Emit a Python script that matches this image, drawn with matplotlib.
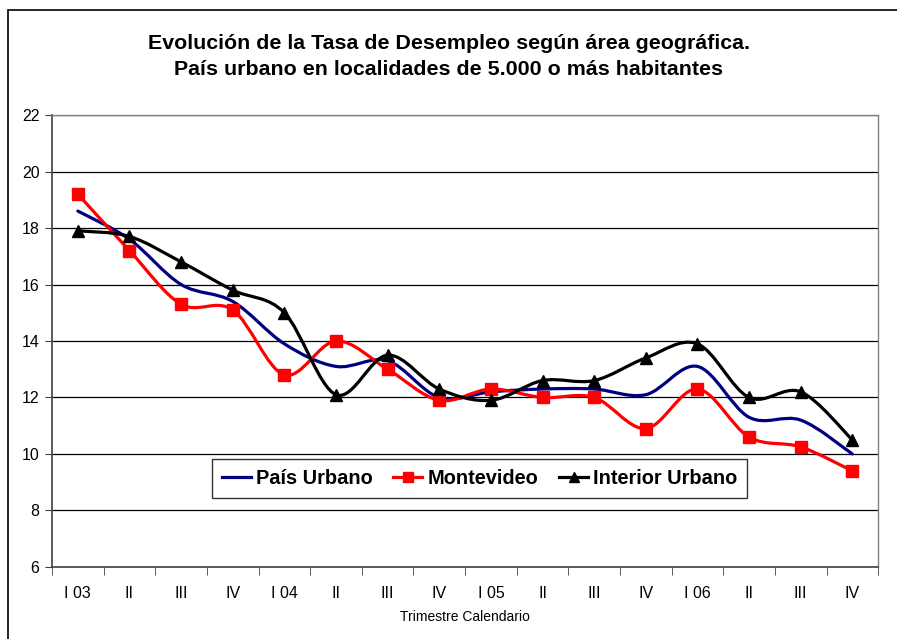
import numpy as np
import matplotlib.pyplot as plt
from matplotlib.path import Path
from matplotlib.patches import PathPatch, Rectangle
from matplotlib.lines import Line2D

plt.rcParams['font.family'] = ['Liberation Sans', 'DejaVu Sans']

# Datos
trimestres = ['I 03', 'II', 'III', 'IV', 'I 04', 'II', 'III', 'IV',
              'I 05', 'II', 'III', 'IV', 'I 06', 'II', 'III', 'IV']
pais_urbano = [18.6, 17.6, 16.0, 15.4, 13.9, 13.1, 13.3, 12.0,
               12.2, 12.3, 12.3, 12.1, 13.1, 11.3, 11.2, 10.0]
montevideo = [19.2, 17.2, 15.3, 15.1, 12.8, 14.0, 13.0, 11.9,
              12.3, 12.0, 12.0, 10.9, 12.3, 10.6, 10.25, 9.4]
interior_urbano = [17.9, 17.7, 16.8, 15.8, 15.0, 12.1, 13.5, 12.3,
                   11.9, 12.6, 12.6, 13.4, 13.9, 12.0, 12.2, 10.5]


def curva_suave(ax, x, y, color, lw):
    # curva tipo Excel (Catmull-Rom -> Bezier)
    p = np.column_stack([x, y]).astype(float)
    n = len(p)
    verts = [p[0]]
    codes = [Path.MOVETO]
    for i in range(n - 1):
        p0 = p[i - 1] if i > 0 else p[i]
        p3 = p[i + 2] if i + 2 < n else p[i + 1]
        c1 = p[i] + (p[i + 1] - p0) / 6.0
        c2 = p[i + 1] - (p3 - p[i]) / 6.0
        verts += [c1, c2, p[i + 1]]
        codes += [Path.CURVE4] * 3
    ax.add_patch(PathPatch(Path(verts, codes), facecolor='none',
                           edgecolor=color, lw=lw, capstyle='round',
                           joinstyle='round', zorder=3))


fig = plt.figure(figsize=(8.97, 6.39), dpi=100)
ax = fig.add_axes([0.058, 0.1127, 0.921, 0.7073])

x = np.arange(len(trimestres))
lw = 2.3
curva_suave(ax, x, pais_urbano, '#000080', lw)
curva_suave(ax, x, montevideo, '#FF0000', lw)
curva_suave(ax, x, interior_urbano, 'black', lw)
ax.plot(x, montevideo, ls='none', marker='s', ms=8.5, color='#FF0000', zorder=4)
ax.plot(x, interior_urbano, ls='none', marker='^', ms=9, color='black', zorder=5)

ax.set_xlim(-0.5, len(trimestres) - 0.5)
ax.set_ylim(6, 22)
ax.set_yticks(np.arange(6, 23, 2))
ax.set_xticks(x)
ax.set_xticklabels(trimestres, fontsize=11.5)
ax.set_xticks(np.arange(-0.5, len(trimestres), 1), minor=True)
ax.tick_params(axis='x', which='major', length=0, pad=14)
ax.tick_params(axis='x', which='minor', length=6, direction='out', color='#404040')
ax.tick_params(axis='y', length=5, direction='out', color='#404040', labelsize=11.5, pad=4)
ax.yaxis.grid(True, color='black', lw=0.9)
ax.set_axisbelow(True)
for s in ['left', 'bottom']:
    ax.spines[s].set_color('#404040')
    ax.spines[s].set_linewidth(1.2)
for s in ['top', 'right']:
    ax.spines[s].set_color('#808080')
    ax.spines[s].set_linewidth(1)

ax.set_xlabel('Trimestre Calendario', fontsize=10, labelpad=6)

fig.text(0.5, 0.9116, 'Evolución de la Tasa de Desempleo según área geográfica.\n'
         'País urbano en localidades de 5.000 o más habitantes',
         ha='center', va='center', fontsize=15.4, fontweight='bold', linespacing=1.42)

handles = [Line2D([], [], color='#000080', lw=lw),
           Line2D([], [], color='#FF0000', lw=lw, marker='s', ms=6.5),
           Line2D([], [], color='black', lw=lw, marker='^', ms=7)]
leg = ax.legend(handles, ['País Urbano', 'Montevideo', 'Interior Urbano'],
                loc='upper left', bbox_to_anchor=(0.1933, 0.239), borderaxespad=0,
                ncol=3, frameon=True, fancybox=False, edgecolor='black',
                prop={'weight': 'bold', 'size': 14.4}, handlelength=1.45,
                columnspacing=1.05, handletextpad=0.25, borderpad=0.5)
leg.get_frame().set_linewidth(1)

fig.add_artist(Rectangle((0.009, -0.05), 1.05, 1.034, transform=fig.transFigure,
                         fill=False, edgecolor='black', lw=1.2))

fig.savefig('out.png', dpi=100)
